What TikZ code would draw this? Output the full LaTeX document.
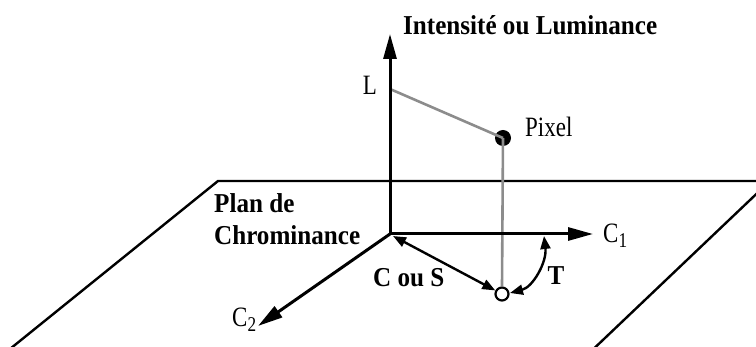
\documentclass[tikz,border=0pt]{standalone}
\usepackage{fontspec}
\setmainfont{Liberation Serif}
\newfontfamily\regf{Liberation Serif}[FakeStretch=0.82]
\newfontfamily\boldf{Liberation Serif Bold}[FakeStretch=0.92]
\usetikzlibrary{arrows.meta}
\definecolor{lgray}{HTML}{8C8C8C}
\tikzset{
  axis/.style={line width=3pt, -{Triangle[length=25pt,width=13pt]}},
  plane/.style={line width=2.4pt, line join=miter},
  guide/.style={line width=2.6pt, lgray},
  dbl/.style={line width=2.4pt, {Triangle[length=13pt,width=10pt]}-{Triangle[length=13pt,width=10pt]}},
  reglab/.style={inner sep=0pt, font=\regf\fontsize{28}{30}\selectfont},
  boldlab/.style={inner sep=0pt, font=\boldf\fontsize{27.3}{32}\selectfont},
}
\begin{document}
\begin{tikzpicture}[x=1pt,y=-1pt]
\useasboundingbox (0,0) rectangle (756,347);
\clip (0,0) rectangle (756,347);
% plane
\coordinate (pl1) at (5,353);
\coordinate (pl2) at (218,181);
\coordinate (pl3) at (770,181);
\coordinate (pl4) at (584,358);
\draw[plane] (pl1) -- (pl2) -- (pl3);
\draw[plane] (pl3) -- (pl4);
% points
\coordinate (O) at (390,234);
\coordinate (Ltop) at (390,34);
\coordinate (C1tip) at (593,234);
\coordinate (C2tip) at (258,326);
\coordinate (Lp) at (390,89);
\node[circle, fill=black, minimum size=16pt, inner sep=0pt] (pix) at (503,138) {};
\node[circle, draw=black, fill=white, line width=2.2pt, minimum size=13pt, inner sep=0pt] (proj) at (502,294) {};
% guides
\draw[guide] (Lp) -- (pix.center);
\draw[guide] (pix.center) -- (proj.north);
% axes
\draw[axis] (O) -- (Ltop);
\draw[axis] (O) -- (C1tip);
\draw[axis] (O) -- (C2tip);
% C ou S
\coordinate (Os) at (393,236);
\draw[dbl] (Os) -- (proj);
% T arc
\coordinate (Ta) at (510,293);
\coordinate (Tb) at (544,236);
\draw[dbl] (Ta) .. controls (533,287) and (547,262) .. (Tb);
% labels
\node[boldlab, anchor=base west] (title) at (403,35) {Intensité ou Luminance};
\node[boldlab, anchor=base west] (plan1) at (214,213) {Plan de};
\node[boldlab, anchor=base west] (plan2) at (214,245) {Chrominance};
\node[boldlab, anchor=base west] (cs) at (373,287) {C ou S};
\node[boldlab, anchor=base] (T) at (556,285) {T};
\node[reglab, anchor=base] (L) at (370,95) {L};
\node[reglab, anchor=base west] (pixlab) at (525,137) {Pixel};
\node[reglab, anchor=base west] (c1) at (603,243) {C\raisebox{-5pt}{\fontsize{21}{21}\selectfont 1}};
\node[reglab, anchor=base west] (c2) at (232,327) {C\raisebox{-5pt}{\fontsize{21}{21}\selectfont 2}};
\end{tikzpicture}
\end{document}
